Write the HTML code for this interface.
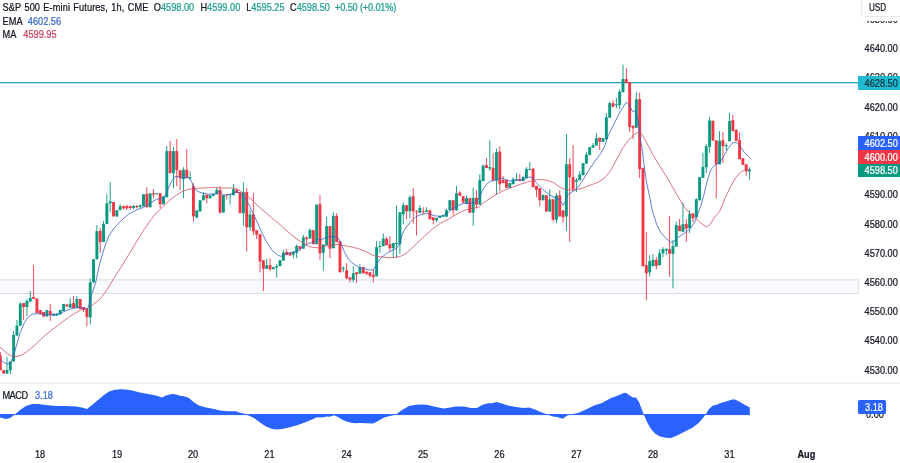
<!DOCTYPE html>
<html><head><meta charset="utf-8"><title>S&amp;P 500 E-mini Futures</title>
<style>
html,body{margin:0;padding:0;background:#fff;}
body{width:900px;height:463px;overflow:hidden;position:relative;font-family:"Liberation Sans",sans-serif;font-size:9.2px;color:#131722;}
#c{position:absolute;left:0;top:0;width:900px;height:463px;filter:blur(0.3px);}
.t{position:absolute;white-space:nowrap;line-height:12px;height:12px;transform:scaleY(1.1);transform-origin:0 50%;}
#txt{position:absolute;left:0;top:0;width:900px;height:463px;will-change:transform;-webkit-text-stroke:0.22px;}
.yl{position:absolute;left:864.6px;width:34px;height:12px;line-height:12px;white-space:nowrap;transform:scaleY(1.1);transform-origin:0 50%;}
.dl{position:absolute;top:449.3px;width:30px;text-align:center;height:12px;line-height:12px;transform:scaleY(1.1);transform-origin:50% 50%;}
.dl.b{font-weight:bold;}
.tag{position:absolute;left:858.3px;width:41.7px;height:13.7px;color:#fff;white-space:nowrap;}
.tag span{position:absolute;left:6.3px;top:1.55px;height:12px;line-height:12px;transform:scaleY(1.1);transform-origin:0 50%;}
.teal{color:#1f9e8f;}
</style></head><body>
<svg id="c" width="900" height="463" viewBox="0 0 900 463">
<rect x="-2" y="279.9" width="860.3" height="13.6" fill="#fafbfe" stroke="#d5d8e2" stroke-width="0.9"/>
<rect x="0" y="82" width="858.3" height="1.3" fill="#2aa7b9"/>
<rect x="-0.15" y="352.0" width="0.9" height="18.3" fill="#f23645"/>
<rect x="-1.15" y="355.4" width="2.9" height="14.9" fill="#f23645"/>
<rect x="3.18" y="370.0" width="0.9" height="3.5" fill="#f23645"/>
<rect x="2.18" y="370.3" width="2.9" height="3.2" fill="#f23645"/>
<rect x="6.51" y="356.7" width="0.9" height="17.3" fill="#089981"/>
<rect x="5.51" y="370.0" width="2.9" height="3.5" fill="#089981"/>
<rect x="9.84" y="361.0" width="0.9" height="13.4" fill="#089981"/>
<rect x="8.84" y="361.5" width="2.9" height="8.8" fill="#089981"/>
<rect x="13.17" y="331.0" width="0.9" height="30.5" fill="#089981"/>
<rect x="12.17" y="335.0" width="2.9" height="26.5" fill="#089981"/>
<rect x="16.50" y="320.0" width="0.9" height="15.6" fill="#089981"/>
<rect x="15.50" y="325.5" width="2.9" height="10.1" fill="#089981"/>
<rect x="19.83" y="302.0" width="0.9" height="23.7" fill="#089981"/>
<rect x="18.83" y="303.7" width="2.9" height="22.0" fill="#089981"/>
<rect x="23.16" y="303.0" width="0.9" height="17.0" fill="#f23645"/>
<rect x="22.16" y="303.0" width="2.9" height="4.0" fill="#f23645"/>
<rect x="26.49" y="299.0" width="0.9" height="17.0" fill="#089981"/>
<rect x="25.49" y="301.0" width="2.9" height="6.0" fill="#089981"/>
<rect x="29.82" y="291.0" width="0.9" height="10.6" fill="#089981"/>
<rect x="28.82" y="298.0" width="2.9" height="3.6" fill="#089981"/>
<rect x="33.15" y="265.0" width="0.9" height="34.0" fill="#f23645"/>
<rect x="32.15" y="297.0" width="2.9" height="2.0" fill="#f23645"/>
<rect x="36.48" y="298.4" width="0.9" height="14.6" fill="#f23645"/>
<rect x="35.48" y="298.4" width="2.9" height="14.6" fill="#f23645"/>
<rect x="39.81" y="310.0" width="0.9" height="4.0" fill="#f23645"/>
<rect x="38.81" y="310.0" width="2.9" height="4.0" fill="#f23645"/>
<rect x="43.14" y="312.0" width="0.9" height="4.5" fill="#f23645"/>
<rect x="42.14" y="312.0" width="2.9" height="4.5" fill="#f23645"/>
<rect x="46.47" y="310.0" width="0.9" height="6.5" fill="#089981"/>
<rect x="45.47" y="310.0" width="2.9" height="6.5" fill="#089981"/>
<rect x="49.80" y="304.0" width="0.9" height="17.0" fill="#f23645"/>
<rect x="48.80" y="311.0" width="2.9" height="4.0" fill="#f23645"/>
<rect x="53.13" y="313.7" width="0.9" height="2.0" fill="#089981"/>
<rect x="52.13" y="313.7" width="2.9" height="2.0" fill="#089981"/>
<rect x="56.46" y="313.7" width="0.9" height="2.0" fill="#089981"/>
<rect x="55.46" y="313.7" width="2.9" height="2.0" fill="#089981"/>
<rect x="59.79" y="310.0" width="0.9" height="4.5" fill="#089981"/>
<rect x="58.79" y="310.0" width="2.9" height="4.5" fill="#089981"/>
<rect x="63.12" y="304.0" width="0.9" height="7.0" fill="#089981"/>
<rect x="62.12" y="304.0" width="2.9" height="7.0" fill="#089981"/>
<rect x="66.45" y="304.5" width="0.9" height="2.0" fill="#f23645"/>
<rect x="65.45" y="304.5" width="2.9" height="2.0" fill="#f23645"/>
<rect x="69.78" y="298.0" width="0.9" height="9.7" fill="#089981"/>
<rect x="68.78" y="303.7" width="2.9" height="4.0" fill="#089981"/>
<rect x="73.11" y="296.0" width="0.9" height="12.0" fill="#f23645"/>
<rect x="72.11" y="303.0" width="2.9" height="5.0" fill="#f23645"/>
<rect x="76.44" y="296.0" width="0.9" height="11.7" fill="#089981"/>
<rect x="75.44" y="299.0" width="2.9" height="8.7" fill="#089981"/>
<rect x="79.77" y="299.0" width="0.9" height="10.0" fill="#f23645"/>
<rect x="78.77" y="299.0" width="2.9" height="10.0" fill="#f23645"/>
<rect x="83.10" y="307.0" width="0.9" height="5.0" fill="#f23645"/>
<rect x="82.10" y="307.0" width="2.9" height="3.0" fill="#f23645"/>
<rect x="86.43" y="308.5" width="0.9" height="18.0" fill="#f23645"/>
<rect x="85.43" y="308.5" width="2.9" height="8.5" fill="#f23645"/>
<rect x="89.76" y="278.4" width="0.9" height="46.2" fill="#089981"/>
<rect x="88.76" y="282.4" width="2.9" height="35.1" fill="#089981"/>
<rect x="93.09" y="259.3" width="0.9" height="23.1" fill="#089981"/>
<rect x="92.09" y="259.3" width="2.9" height="23.1" fill="#089981"/>
<rect x="96.42" y="225.0" width="0.9" height="34.3" fill="#089981"/>
<rect x="95.42" y="231.2" width="2.9" height="28.1" fill="#089981"/>
<rect x="99.75" y="228.0" width="0.9" height="25.0" fill="#f23645"/>
<rect x="98.75" y="230.8" width="2.9" height="11.4" fill="#f23645"/>
<rect x="103.08" y="221.0" width="0.9" height="21.0" fill="#089981"/>
<rect x="102.08" y="224.0" width="2.9" height="18.0" fill="#089981"/>
<rect x="106.41" y="194.3" width="0.9" height="29.7" fill="#089981"/>
<rect x="105.41" y="203.3" width="2.9" height="20.7" fill="#089981"/>
<rect x="109.74" y="182.2" width="0.9" height="29.8" fill="#089981"/>
<rect x="108.74" y="201.3" width="2.9" height="2.0" fill="#089981"/>
<rect x="113.07" y="202.0" width="0.9" height="14.4" fill="#f23645"/>
<rect x="112.07" y="202.0" width="2.9" height="14.4" fill="#f23645"/>
<rect x="116.40" y="210.2" width="0.9" height="6.3" fill="#089981"/>
<rect x="115.40" y="210.2" width="2.9" height="6.3" fill="#089981"/>
<rect x="119.73" y="204.3" width="0.9" height="5.9" fill="#089981"/>
<rect x="118.73" y="206.2" width="2.9" height="4.0" fill="#089981"/>
<rect x="123.06" y="205.3" width="0.9" height="4.2" fill="#f23645"/>
<rect x="122.06" y="206.3" width="2.9" height="2.0" fill="#f23645"/>
<rect x="126.39" y="204.8" width="0.9" height="5.0" fill="#f23645"/>
<rect x="125.39" y="206.0" width="2.9" height="2.3" fill="#f23645"/>
<rect x="129.72" y="205.5" width="0.9" height="4.0" fill="#f23645"/>
<rect x="128.72" y="206.3" width="2.9" height="1.7" fill="#f23645"/>
<rect x="133.05" y="204.8" width="0.9" height="4.4" fill="#089981"/>
<rect x="132.05" y="206.0" width="2.9" height="2.0" fill="#089981"/>
<rect x="136.38" y="205.0" width="0.9" height="3.5" fill="#f23645"/>
<rect x="135.38" y="206.0" width="2.9" height="1.1" fill="#f23645"/>
<rect x="139.71" y="204.2" width="0.9" height="4.0" fill="#089981"/>
<rect x="138.71" y="205.5" width="2.9" height="1.6" fill="#089981"/>
<rect x="143.04" y="194.3" width="0.9" height="12.0" fill="#089981"/>
<rect x="142.04" y="194.3" width="2.9" height="12.0" fill="#089981"/>
<rect x="146.37" y="187.3" width="0.9" height="20.0" fill="#f23645"/>
<rect x="145.37" y="193.9" width="2.9" height="13.4" fill="#f23645"/>
<rect x="149.70" y="193.3" width="0.9" height="14.0" fill="#089981"/>
<rect x="148.70" y="193.3" width="2.9" height="14.0" fill="#089981"/>
<rect x="153.03" y="189.3" width="0.9" height="9.0" fill="#f23645"/>
<rect x="152.03" y="193.3" width="2.9" height="1.4" fill="#f23645"/>
<rect x="156.36" y="193.3" width="0.9" height="1.0" fill="#089981"/>
<rect x="155.36" y="193.3" width="2.9" height="1.0" fill="#089981"/>
<rect x="159.69" y="193.3" width="0.9" height="15.0" fill="#f23645"/>
<rect x="158.69" y="193.3" width="2.9" height="11.0" fill="#f23645"/>
<rect x="163.02" y="196.3" width="0.9" height="8.0" fill="#089981"/>
<rect x="162.02" y="196.3" width="2.9" height="8.0" fill="#089981"/>
<rect x="166.35" y="146.0" width="0.9" height="51.3" fill="#089981"/>
<rect x="165.35" y="151.1" width="2.9" height="46.2" fill="#089981"/>
<rect x="169.68" y="141.0" width="0.9" height="32.2" fill="#f23645"/>
<rect x="168.68" y="151.1" width="2.9" height="22.1" fill="#f23645"/>
<rect x="173.01" y="147.0" width="0.9" height="41.3" fill="#089981"/>
<rect x="172.01" y="151.1" width="2.9" height="22.1" fill="#089981"/>
<rect x="176.34" y="139.0" width="0.9" height="47.2" fill="#f23645"/>
<rect x="175.34" y="151.1" width="2.9" height="19.1" fill="#f23645"/>
<rect x="179.67" y="170.2" width="0.9" height="20.1" fill="#f23645"/>
<rect x="178.67" y="170.2" width="2.9" height="8.0" fill="#f23645"/>
<rect x="183.00" y="167.2" width="0.9" height="31.1" fill="#089981"/>
<rect x="182.00" y="169.8" width="2.9" height="9.4" fill="#089981"/>
<rect x="186.33" y="149.1" width="0.9" height="29.1" fill="#f23645"/>
<rect x="185.33" y="169.8" width="2.9" height="8.4" fill="#f23645"/>
<rect x="189.66" y="171.2" width="0.9" height="9.0" fill="#089981"/>
<rect x="188.66" y="177.2" width="2.9" height="1.0" fill="#089981"/>
<rect x="192.99" y="183.2" width="0.9" height="38.2" fill="#f23645"/>
<rect x="191.99" y="186.2" width="2.9" height="30.2" fill="#f23645"/>
<rect x="196.32" y="210.4" width="0.9" height="8.0" fill="#089981"/>
<rect x="195.32" y="210.4" width="2.9" height="7.0" fill="#089981"/>
<rect x="199.65" y="200.3" width="0.9" height="11.1" fill="#089981"/>
<rect x="198.65" y="200.3" width="2.9" height="11.1" fill="#089981"/>
<rect x="202.98" y="192.3" width="0.9" height="8.0" fill="#089981"/>
<rect x="201.98" y="195.3" width="2.9" height="5.0" fill="#089981"/>
<rect x="206.31" y="194.7" width="0.9" height="8.6" fill="#f23645"/>
<rect x="205.31" y="194.7" width="2.9" height="3.6" fill="#f23645"/>
<rect x="209.64" y="195.3" width="0.9" height="3.0" fill="#089981"/>
<rect x="208.64" y="195.3" width="2.9" height="3.0" fill="#089981"/>
<rect x="212.97" y="193.9" width="0.9" height="2.0" fill="#089981"/>
<rect x="211.97" y="193.9" width="2.9" height="2.0" fill="#089981"/>
<rect x="216.30" y="187.3" width="0.9" height="7.0" fill="#089981"/>
<rect x="215.30" y="189.9" width="2.9" height="4.4" fill="#089981"/>
<rect x="219.63" y="186.2" width="0.9" height="27.2" fill="#f23645"/>
<rect x="218.63" y="189.9" width="2.9" height="22.9" fill="#f23645"/>
<rect x="222.96" y="195.2" width="0.9" height="17.3" fill="#089981"/>
<rect x="221.96" y="195.2" width="2.9" height="17.3" fill="#089981"/>
<rect x="226.29" y="194.3" width="0.9" height="5.0" fill="#f23645"/>
<rect x="225.29" y="194.3" width="2.9" height="1.0" fill="#f23645"/>
<rect x="229.62" y="194.3" width="0.9" height="10.2" fill="#089981"/>
<rect x="228.62" y="194.3" width="2.9" height="1.0" fill="#089981"/>
<rect x="232.95" y="184.1" width="0.9" height="11.1" fill="#089981"/>
<rect x="231.95" y="189.2" width="2.9" height="6.0" fill="#089981"/>
<rect x="236.28" y="189.5" width="0.9" height="3.5" fill="#f23645"/>
<rect x="235.28" y="189.5" width="2.9" height="3.5" fill="#f23645"/>
<rect x="239.61" y="192.1" width="0.9" height="21.1" fill="#f23645"/>
<rect x="238.61" y="192.1" width="2.9" height="21.1" fill="#f23645"/>
<rect x="242.94" y="182.5" width="0.9" height="43.5" fill="#089981"/>
<rect x="241.94" y="192.1" width="2.9" height="21.1" fill="#089981"/>
<rect x="246.27" y="188.0" width="0.9" height="63.4" fill="#f23645"/>
<rect x="245.27" y="192.1" width="2.9" height="35.2" fill="#f23645"/>
<rect x="249.60" y="210.0" width="0.9" height="21.0" fill="#089981"/>
<rect x="248.60" y="214.6" width="2.9" height="12.7" fill="#089981"/>
<rect x="252.93" y="193.1" width="0.9" height="41.9" fill="#f23645"/>
<rect x="251.93" y="214.2" width="2.9" height="17.1" fill="#f23645"/>
<rect x="256.26" y="230.3" width="0.9" height="8.7" fill="#f23645"/>
<rect x="255.26" y="230.3" width="2.9" height="4.4" fill="#f23645"/>
<rect x="259.59" y="234.2" width="0.9" height="38.1" fill="#f23645"/>
<rect x="258.59" y="234.2" width="2.9" height="27.3" fill="#f23645"/>
<rect x="262.92" y="260.3" width="0.9" height="30.7" fill="#f23645"/>
<rect x="261.92" y="260.3" width="2.9" height="8.5" fill="#f23645"/>
<rect x="266.25" y="258.8" width="0.9" height="10.0" fill="#089981"/>
<rect x="265.25" y="265.2" width="2.9" height="3.6" fill="#089981"/>
<rect x="269.58" y="258.2" width="0.9" height="13.0" fill="#f23645"/>
<rect x="268.58" y="265.2" width="2.9" height="4.0" fill="#f23645"/>
<rect x="272.91" y="267.2" width="0.9" height="2.0" fill="#089981"/>
<rect x="271.91" y="267.2" width="2.9" height="2.0" fill="#089981"/>
<rect x="276.24" y="264.2" width="0.9" height="13.5" fill="#089981"/>
<rect x="275.24" y="266.2" width="2.9" height="1.4" fill="#089981"/>
<rect x="279.57" y="260.2" width="0.9" height="6.0" fill="#089981"/>
<rect x="278.57" y="260.2" width="2.9" height="6.0" fill="#089981"/>
<rect x="282.90" y="250.0" width="0.9" height="10.6" fill="#089981"/>
<rect x="281.90" y="252.6" width="2.9" height="8.0" fill="#089981"/>
<rect x="286.23" y="249.4" width="0.9" height="5.6" fill="#f23645"/>
<rect x="285.23" y="252.1" width="2.9" height="2.9" fill="#f23645"/>
<rect x="289.56" y="252.8" width="0.9" height="2.7" fill="#f23645"/>
<rect x="288.56" y="252.8" width="2.9" height="2.7" fill="#f23645"/>
<rect x="292.89" y="251.8" width="0.9" height="6.5" fill="#089981"/>
<rect x="291.89" y="251.8" width="2.9" height="2.8" fill="#089981"/>
<rect x="296.22" y="244.3" width="0.9" height="14.0" fill="#089981"/>
<rect x="295.22" y="246.0" width="2.9" height="6.8" fill="#089981"/>
<rect x="299.55" y="246.0" width="0.9" height="5.2" fill="#f23645"/>
<rect x="298.55" y="246.0" width="2.9" height="3.0" fill="#f23645"/>
<rect x="302.88" y="234.9" width="0.9" height="13.8" fill="#089981"/>
<rect x="301.88" y="237.4" width="2.9" height="11.3" fill="#089981"/>
<rect x="306.21" y="236.3" width="0.9" height="8.9" fill="#f23645"/>
<rect x="305.21" y="237.7" width="2.9" height="1.5" fill="#f23645"/>
<rect x="309.54" y="228.2" width="0.9" height="10.3" fill="#089981"/>
<rect x="308.54" y="230.0" width="2.9" height="8.5" fill="#089981"/>
<rect x="312.87" y="230.2" width="0.9" height="14.0" fill="#f23645"/>
<rect x="311.87" y="230.2" width="2.9" height="14.0" fill="#f23645"/>
<rect x="316.20" y="204.6" width="0.9" height="39.6" fill="#089981"/>
<rect x="315.20" y="204.6" width="2.9" height="39.6" fill="#089981"/>
<rect x="319.53" y="195.1" width="0.9" height="65.2" fill="#f23645"/>
<rect x="318.53" y="204.2" width="2.9" height="49.1" fill="#f23645"/>
<rect x="322.86" y="244.5" width="0.9" height="26.3" fill="#089981"/>
<rect x="321.86" y="244.5" width="2.9" height="8.3" fill="#089981"/>
<rect x="326.19" y="216.8" width="0.9" height="28.4" fill="#089981"/>
<rect x="325.19" y="226.1" width="2.9" height="19.1" fill="#089981"/>
<rect x="329.52" y="226.1" width="0.9" height="32.2" fill="#f23645"/>
<rect x="328.52" y="226.1" width="2.9" height="22.6" fill="#f23645"/>
<rect x="332.85" y="212.2" width="0.9" height="36.0" fill="#089981"/>
<rect x="331.85" y="215.9" width="2.9" height="32.3" fill="#089981"/>
<rect x="336.18" y="213.2" width="0.9" height="29.0" fill="#f23645"/>
<rect x="335.18" y="215.9" width="2.9" height="26.3" fill="#f23645"/>
<rect x="339.51" y="241.2" width="0.9" height="31.1" fill="#f23645"/>
<rect x="338.51" y="241.2" width="2.9" height="31.1" fill="#f23645"/>
<rect x="342.84" y="266.2" width="0.9" height="6.1" fill="#089981"/>
<rect x="341.84" y="268.2" width="2.9" height="1.0" fill="#089981"/>
<rect x="346.17" y="263.2" width="0.9" height="16.1" fill="#f23645"/>
<rect x="345.17" y="270.2" width="2.9" height="8.1" fill="#f23645"/>
<rect x="349.50" y="277.3" width="0.9" height="5.0" fill="#f23645"/>
<rect x="348.50" y="277.3" width="2.9" height="2.4" fill="#f23645"/>
<rect x="352.83" y="266.2" width="0.9" height="16.1" fill="#089981"/>
<rect x="351.83" y="273.3" width="2.9" height="6.4" fill="#089981"/>
<rect x="356.16" y="272.3" width="0.9" height="10.6" fill="#f23645"/>
<rect x="355.16" y="272.3" width="2.9" height="2.0" fill="#f23645"/>
<rect x="359.49" y="264.2" width="0.9" height="9.5" fill="#089981"/>
<rect x="358.49" y="267.6" width="2.9" height="6.1" fill="#089981"/>
<rect x="362.82" y="267.2" width="0.9" height="6.1" fill="#f23645"/>
<rect x="361.82" y="267.2" width="2.9" height="6.1" fill="#f23645"/>
<rect x="366.15" y="271.6" width="0.9" height="3.7" fill="#f23645"/>
<rect x="365.15" y="271.6" width="2.9" height="2.1" fill="#f23645"/>
<rect x="369.48" y="272.3" width="0.9" height="5.4" fill="#f23645"/>
<rect x="368.48" y="272.3" width="2.9" height="3.4" fill="#f23645"/>
<rect x="372.81" y="269.2" width="0.9" height="13.1" fill="#f23645"/>
<rect x="371.81" y="274.9" width="2.9" height="2.0" fill="#f23645"/>
<rect x="376.14" y="241.1" width="0.9" height="35.2" fill="#089981"/>
<rect x="375.14" y="247.1" width="2.9" height="29.2" fill="#089981"/>
<rect x="379.47" y="241.0" width="0.9" height="12.0" fill="#089981"/>
<rect x="378.47" y="246.1" width="2.9" height="1.0" fill="#089981"/>
<rect x="382.80" y="233.4" width="0.9" height="12.8" fill="#089981"/>
<rect x="381.80" y="238.7" width="2.9" height="7.5" fill="#089981"/>
<rect x="386.13" y="237.3" width="0.9" height="7.9" fill="#f23645"/>
<rect x="385.13" y="238.7" width="2.9" height="6.5" fill="#f23645"/>
<rect x="389.46" y="236.3" width="0.9" height="14.9" fill="#f23645"/>
<rect x="388.46" y="244.2" width="2.9" height="4.0" fill="#f23645"/>
<rect x="392.79" y="243.2" width="0.9" height="14.6" fill="#089981"/>
<rect x="391.79" y="243.2" width="2.9" height="5.0" fill="#089981"/>
<rect x="396.12" y="205.5" width="0.9" height="52.7" fill="#089981"/>
<rect x="395.12" y="243.0" width="2.9" height="1.0" fill="#089981"/>
<rect x="399.45" y="212.3" width="0.9" height="41.7" fill="#089981"/>
<rect x="398.45" y="212.3" width="2.9" height="32.0" fill="#089981"/>
<rect x="402.78" y="202.2" width="0.9" height="22.1" fill="#089981"/>
<rect x="401.78" y="205.2" width="2.9" height="9.1" fill="#089981"/>
<rect x="406.11" y="205.2" width="0.9" height="14.1" fill="#f23645"/>
<rect x="405.11" y="205.2" width="2.9" height="6.1" fill="#f23645"/>
<rect x="409.44" y="195.2" width="0.9" height="23.1" fill="#089981"/>
<rect x="408.44" y="197.2" width="2.9" height="14.1" fill="#089981"/>
<rect x="412.77" y="187.8" width="0.9" height="35.6" fill="#f23645"/>
<rect x="411.77" y="196.2" width="2.9" height="15.1" fill="#f23645"/>
<rect x="416.10" y="210.3" width="0.9" height="25.1" fill="#f23645"/>
<rect x="415.10" y="211.3" width="2.9" height="1.0" fill="#f23645"/>
<rect x="419.43" y="205.2" width="0.9" height="7.5" fill="#089981"/>
<rect x="418.43" y="207.9" width="2.9" height="4.8" fill="#089981"/>
<rect x="422.76" y="207.3" width="0.9" height="7.0" fill="#f23645"/>
<rect x="421.76" y="211.3" width="2.9" height="1.0" fill="#f23645"/>
<rect x="426.09" y="207.3" width="0.9" height="4.6" fill="#089981"/>
<rect x="425.09" y="210.3" width="2.9" height="1.6" fill="#089981"/>
<rect x="429.42" y="210.3" width="0.9" height="9.0" fill="#f23645"/>
<rect x="428.42" y="210.3" width="2.9" height="9.0" fill="#f23645"/>
<rect x="432.75" y="217.3" width="0.9" height="7.0" fill="#f23645"/>
<rect x="431.75" y="217.3" width="2.9" height="3.0" fill="#f23645"/>
<rect x="436.08" y="217.9" width="0.9" height="4.1" fill="#089981"/>
<rect x="435.08" y="217.9" width="2.9" height="2.4" fill="#089981"/>
<rect x="439.41" y="215.9" width="0.9" height="2.0" fill="#089981"/>
<rect x="438.41" y="215.9" width="2.9" height="2.0" fill="#089981"/>
<rect x="442.74" y="215.3" width="0.9" height="1.4" fill="#089981"/>
<rect x="441.74" y="215.3" width="2.9" height="1.4" fill="#089981"/>
<rect x="446.07" y="208.7" width="0.9" height="8.0" fill="#089981"/>
<rect x="445.07" y="210.3" width="2.9" height="6.4" fill="#089981"/>
<rect x="449.40" y="200.2" width="0.9" height="10.1" fill="#089981"/>
<rect x="448.40" y="200.2" width="2.9" height="10.1" fill="#089981"/>
<rect x="452.73" y="200.2" width="0.9" height="15.1" fill="#f23645"/>
<rect x="451.73" y="200.2" width="2.9" height="10.1" fill="#f23645"/>
<rect x="456.06" y="185.8" width="0.9" height="24.5" fill="#089981"/>
<rect x="455.06" y="193.2" width="2.9" height="17.1" fill="#089981"/>
<rect x="459.39" y="191.2" width="0.9" height="4.6" fill="#f23645"/>
<rect x="458.39" y="192.6" width="2.9" height="3.2" fill="#f23645"/>
<rect x="462.72" y="196.2" width="0.9" height="6.4" fill="#f23645"/>
<rect x="461.72" y="196.2" width="2.9" height="6.4" fill="#f23645"/>
<rect x="466.05" y="195.2" width="0.9" height="8.6" fill="#089981"/>
<rect x="465.05" y="198.2" width="2.9" height="5.6" fill="#089981"/>
<rect x="469.38" y="198.2" width="0.9" height="14.5" fill="#f23645"/>
<rect x="468.38" y="198.2" width="2.9" height="14.5" fill="#f23645"/>
<rect x="472.71" y="187.8" width="0.9" height="38.1" fill="#089981"/>
<rect x="471.71" y="197.8" width="2.9" height="14.9" fill="#089981"/>
<rect x="476.04" y="190.2" width="0.9" height="18.1" fill="#f23645"/>
<rect x="475.04" y="197.8" width="2.9" height="6.8" fill="#f23645"/>
<rect x="479.37" y="174.1" width="0.9" height="30.5" fill="#089981"/>
<rect x="478.37" y="180.1" width="2.9" height="24.5" fill="#089981"/>
<rect x="482.70" y="164.5" width="0.9" height="16.6" fill="#089981"/>
<rect x="481.70" y="165.7" width="2.9" height="15.4" fill="#089981"/>
<rect x="486.03" y="158.0" width="0.9" height="10.1" fill="#f23645"/>
<rect x="485.03" y="165.1" width="2.9" height="3.0" fill="#f23645"/>
<rect x="489.36" y="140.2" width="0.9" height="30.8" fill="#089981"/>
<rect x="488.36" y="167.1" width="2.9" height="1.5" fill="#089981"/>
<rect x="492.69" y="153.1" width="0.9" height="27.4" fill="#f23645"/>
<rect x="491.69" y="167.9" width="2.9" height="12.6" fill="#f23645"/>
<rect x="496.02" y="148.5" width="0.9" height="46.0" fill="#089981"/>
<rect x="495.02" y="152.2" width="2.9" height="28.3" fill="#089981"/>
<rect x="499.35" y="146.0" width="0.9" height="45.2" fill="#f23645"/>
<rect x="498.35" y="151.6" width="2.9" height="32.6" fill="#f23645"/>
<rect x="502.68" y="176.1" width="0.9" height="7.0" fill="#f23645"/>
<rect x="501.68" y="180.1" width="2.9" height="3.0" fill="#f23645"/>
<rect x="506.01" y="180.1" width="0.9" height="7.7" fill="#f23645"/>
<rect x="505.01" y="180.1" width="2.9" height="7.7" fill="#f23645"/>
<rect x="509.34" y="183.1" width="0.9" height="4.7" fill="#089981"/>
<rect x="508.34" y="183.1" width="2.9" height="4.7" fill="#089981"/>
<rect x="512.67" y="177.1" width="0.9" height="7.1" fill="#089981"/>
<rect x="511.67" y="179.1" width="2.9" height="5.1" fill="#089981"/>
<rect x="516.00" y="173.1" width="0.9" height="7.0" fill="#089981"/>
<rect x="515.00" y="179.1" width="2.9" height="1.0" fill="#089981"/>
<rect x="519.33" y="174.1" width="0.9" height="7.0" fill="#f23645"/>
<rect x="518.33" y="179.1" width="2.9" height="2.0" fill="#f23645"/>
<rect x="522.66" y="175.7" width="0.9" height="5.4" fill="#089981"/>
<rect x="521.66" y="177.1" width="2.9" height="4.0" fill="#089981"/>
<rect x="525.99" y="167.1" width="0.9" height="11.0" fill="#089981"/>
<rect x="524.99" y="169.1" width="2.9" height="9.0" fill="#089981"/>
<rect x="529.32" y="162.0" width="0.9" height="8.1" fill="#089981"/>
<rect x="528.32" y="169.1" width="2.9" height="1.0" fill="#089981"/>
<rect x="532.65" y="168.5" width="0.9" height="18.7" fill="#f23645"/>
<rect x="531.65" y="168.5" width="2.9" height="18.7" fill="#f23645"/>
<rect x="535.98" y="185.8" width="0.9" height="11.4" fill="#f23645"/>
<rect x="534.98" y="185.8" width="2.9" height="4.0" fill="#f23645"/>
<rect x="539.31" y="188.2" width="0.9" height="18.0" fill="#f23645"/>
<rect x="538.31" y="188.2" width="2.9" height="12.0" fill="#f23645"/>
<rect x="542.64" y="194.8" width="0.9" height="5.5" fill="#089981"/>
<rect x="541.64" y="194.8" width="2.9" height="5.5" fill="#089981"/>
<rect x="545.97" y="195.3" width="0.9" height="16.3" fill="#f23645"/>
<rect x="544.97" y="195.3" width="2.9" height="16.3" fill="#f23645"/>
<rect x="549.30" y="189.2" width="0.9" height="22.4" fill="#089981"/>
<rect x="548.30" y="199.3" width="2.9" height="12.3" fill="#089981"/>
<rect x="552.63" y="199.3" width="0.9" height="22.1" fill="#f23645"/>
<rect x="551.63" y="199.3" width="2.9" height="20.3" fill="#f23645"/>
<rect x="555.96" y="193.2" width="0.9" height="29.8" fill="#089981"/>
<rect x="554.96" y="195.5" width="2.9" height="24.1" fill="#089981"/>
<rect x="559.29" y="190.3" width="0.9" height="26.1" fill="#f23645"/>
<rect x="558.29" y="195.3" width="2.9" height="21.1" fill="#f23645"/>
<rect x="562.62" y="210.4" width="0.9" height="12.1" fill="#f23645"/>
<rect x="561.62" y="210.4" width="2.9" height="6.8" fill="#f23645"/>
<rect x="565.95" y="134.0" width="0.9" height="97.1" fill="#089981"/>
<rect x="564.95" y="164.2" width="2.9" height="52.2" fill="#089981"/>
<rect x="569.28" y="158.1" width="0.9" height="84.0" fill="#f23645"/>
<rect x="568.28" y="164.2" width="2.9" height="13.0" fill="#f23645"/>
<rect x="572.61" y="145.0" width="0.9" height="46.3" fill="#f23645"/>
<rect x="571.61" y="177.2" width="2.9" height="12.1" fill="#f23645"/>
<rect x="575.94" y="178.2" width="0.9" height="14.0" fill="#089981"/>
<rect x="574.94" y="180.2" width="2.9" height="1.6" fill="#089981"/>
<rect x="579.27" y="171.2" width="0.9" height="9.0" fill="#089981"/>
<rect x="578.27" y="174.6" width="2.9" height="5.6" fill="#089981"/>
<rect x="582.60" y="163.1" width="0.9" height="12.1" fill="#089981"/>
<rect x="581.60" y="163.1" width="2.9" height="12.1" fill="#089981"/>
<rect x="585.93" y="152.1" width="0.9" height="11.6" fill="#089981"/>
<rect x="584.93" y="154.5" width="2.9" height="9.2" fill="#089981"/>
<rect x="589.26" y="147.1" width="0.9" height="8.0" fill="#089981"/>
<rect x="588.26" y="147.1" width="2.9" height="8.0" fill="#089981"/>
<rect x="592.59" y="143.1" width="0.9" height="4.6" fill="#089981"/>
<rect x="591.59" y="145.1" width="2.9" height="2.6" fill="#089981"/>
<rect x="595.92" y="133.2" width="0.9" height="12.4" fill="#089981"/>
<rect x="594.92" y="138.2" width="2.9" height="7.4" fill="#089981"/>
<rect x="599.25" y="137.7" width="0.9" height="12.3" fill="#f23645"/>
<rect x="598.25" y="137.7" width="2.9" height="4.1" fill="#f23645"/>
<rect x="602.58" y="138.2" width="0.9" height="3.6" fill="#089981"/>
<rect x="601.58" y="138.2" width="2.9" height="3.6" fill="#089981"/>
<rect x="605.91" y="113.3" width="0.9" height="26.1" fill="#089981"/>
<rect x="604.91" y="117.3" width="2.9" height="22.1" fill="#089981"/>
<rect x="609.24" y="101.6" width="0.9" height="16.1" fill="#089981"/>
<rect x="608.24" y="103.2" width="2.9" height="14.5" fill="#089981"/>
<rect x="612.57" y="100.2" width="0.9" height="6.6" fill="#f23645"/>
<rect x="611.57" y="103.2" width="2.9" height="3.6" fill="#f23645"/>
<rect x="615.90" y="97.8" width="0.9" height="10.4" fill="#089981"/>
<rect x="614.90" y="104.2" width="2.9" height="1.0" fill="#089981"/>
<rect x="619.23" y="89.2" width="0.9" height="20.0" fill="#089981"/>
<rect x="618.23" y="91.6" width="2.9" height="13.6" fill="#089981"/>
<rect x="622.56" y="64.6" width="0.9" height="27.6" fill="#089981"/>
<rect x="621.56" y="79.1" width="2.9" height="13.1" fill="#089981"/>
<rect x="625.89" y="68.1" width="0.9" height="15.0" fill="#f23645"/>
<rect x="624.89" y="79.1" width="2.9" height="4.0" fill="#f23645"/>
<rect x="629.22" y="82.1" width="0.9" height="50.2" fill="#f23645"/>
<rect x="628.22" y="82.1" width="2.9" height="44.8" fill="#f23645"/>
<rect x="632.55" y="125.7" width="0.9" height="13.3" fill="#f23645"/>
<rect x="631.55" y="125.7" width="2.9" height="2.6" fill="#f23645"/>
<rect x="635.88" y="92.2" width="0.9" height="35.5" fill="#089981"/>
<rect x="634.88" y="99.2" width="2.9" height="28.5" fill="#089981"/>
<rect x="639.21" y="92.8" width="0.9" height="85.4" fill="#f23645"/>
<rect x="638.21" y="99.2" width="2.9" height="70.0" fill="#f23645"/>
<rect x="642.54" y="167.8" width="0.9" height="98.4" fill="#f23645"/>
<rect x="641.54" y="167.8" width="2.9" height="98.4" fill="#f23645"/>
<rect x="645.87" y="232.1" width="0.9" height="68.3" fill="#f23645"/>
<rect x="644.87" y="265.2" width="2.9" height="8.1" fill="#f23645"/>
<rect x="649.20" y="255.2" width="0.9" height="21.1" fill="#089981"/>
<rect x="648.20" y="261.2" width="2.9" height="11.1" fill="#089981"/>
<rect x="652.53" y="254.2" width="0.9" height="12.0" fill="#089981"/>
<rect x="651.53" y="259.8" width="2.9" height="6.4" fill="#089981"/>
<rect x="655.86" y="257.2" width="0.9" height="12.1" fill="#f23645"/>
<rect x="654.86" y="259.8" width="2.9" height="6.0" fill="#f23645"/>
<rect x="659.19" y="249.2" width="0.9" height="16.0" fill="#089981"/>
<rect x="658.19" y="253.2" width="2.9" height="12.0" fill="#089981"/>
<rect x="662.52" y="247.2" width="0.9" height="10.0" fill="#089981"/>
<rect x="661.52" y="249.2" width="2.9" height="4.0" fill="#089981"/>
<rect x="665.85" y="248.2" width="0.9" height="7.0" fill="#089981"/>
<rect x="664.85" y="249.2" width="2.9" height="1.4" fill="#089981"/>
<rect x="669.18" y="216.0" width="0.9" height="60.7" fill="#f23645"/>
<rect x="668.18" y="249.2" width="2.9" height="4.6" fill="#f23645"/>
<rect x="672.51" y="240.1" width="0.9" height="48.2" fill="#089981"/>
<rect x="671.51" y="246.1" width="2.9" height="7.7" fill="#089981"/>
<rect x="675.84" y="221.6" width="0.9" height="25.0" fill="#089981"/>
<rect x="674.84" y="225.1" width="2.9" height="21.5" fill="#089981"/>
<rect x="679.17" y="219.0" width="0.9" height="12.1" fill="#f23645"/>
<rect x="678.17" y="225.7" width="2.9" height="5.4" fill="#f23645"/>
<rect x="682.50" y="202.3" width="0.9" height="29.4" fill="#089981"/>
<rect x="681.50" y="224.1" width="2.9" height="7.6" fill="#089981"/>
<rect x="685.83" y="219.0" width="0.9" height="23.1" fill="#f23645"/>
<rect x="684.83" y="224.1" width="2.9" height="4.4" fill="#f23645"/>
<rect x="689.16" y="210.4" width="0.9" height="22.7" fill="#089981"/>
<rect x="688.16" y="214.0" width="2.9" height="14.1" fill="#089981"/>
<rect x="692.49" y="213.5" width="0.9" height="8.5" fill="#f23645"/>
<rect x="691.49" y="213.5" width="2.9" height="4.7" fill="#f23645"/>
<rect x="695.82" y="198.3" width="0.9" height="19.1" fill="#089981"/>
<rect x="694.82" y="199.3" width="2.9" height="18.1" fill="#089981"/>
<rect x="699.15" y="177.2" width="0.9" height="23.1" fill="#089981"/>
<rect x="698.15" y="177.2" width="2.9" height="23.1" fill="#089981"/>
<rect x="702.48" y="152.6" width="0.9" height="25.3" fill="#089981"/>
<rect x="701.48" y="166.8" width="2.9" height="11.1" fill="#089981"/>
<rect x="705.81" y="144.2" width="0.9" height="28.8" fill="#089981"/>
<rect x="704.81" y="146.2" width="2.9" height="21.0" fill="#089981"/>
<rect x="709.14" y="117.0" width="0.9" height="36.0" fill="#089981"/>
<rect x="708.14" y="120.5" width="2.9" height="26.4" fill="#089981"/>
<rect x="712.47" y="120.8" width="0.9" height="19.8" fill="#f23645"/>
<rect x="711.47" y="120.8" width="2.9" height="19.8" fill="#f23645"/>
<rect x="715.80" y="140.3" width="0.9" height="57.7" fill="#f23645"/>
<rect x="714.80" y="140.3" width="2.9" height="23.9" fill="#f23645"/>
<rect x="719.13" y="131.1" width="0.9" height="33.2" fill="#089981"/>
<rect x="718.13" y="140.8" width="2.9" height="23.5" fill="#089981"/>
<rect x="722.46" y="132.1" width="0.9" height="30.9" fill="#f23645"/>
<rect x="721.46" y="140.2" width="2.9" height="6.0" fill="#f23645"/>
<rect x="725.79" y="143.2" width="0.9" height="7.0" fill="#089981"/>
<rect x="724.79" y="145.2" width="2.9" height="1.0" fill="#089981"/>
<rect x="729.12" y="113.0" width="0.9" height="28.2" fill="#089981"/>
<rect x="728.12" y="121.1" width="2.9" height="20.1" fill="#089981"/>
<rect x="732.45" y="115.0" width="0.9" height="16.1" fill="#f23645"/>
<rect x="731.45" y="120.1" width="2.9" height="11.0" fill="#f23645"/>
<rect x="735.78" y="129.1" width="0.9" height="11.7" fill="#f23645"/>
<rect x="734.78" y="130.1" width="2.9" height="10.7" fill="#f23645"/>
<rect x="739.11" y="132.1" width="0.9" height="27.1" fill="#f23645"/>
<rect x="738.11" y="140.2" width="2.9" height="19.0" fill="#f23645"/>
<rect x="742.44" y="158.2" width="0.9" height="6.7" fill="#f23645"/>
<rect x="741.44" y="158.2" width="2.9" height="6.7" fill="#f23645"/>
<rect x="745.77" y="164.3" width="0.9" height="11.4" fill="#f23645"/>
<rect x="744.77" y="164.3" width="2.9" height="7.0" fill="#f23645"/>
<rect x="749.10" y="167.3" width="0.9" height="12.4" fill="#089981"/>
<rect x="748.10" y="169.7" width="2.9" height="1.6" fill="#089981"/>
<polyline points="0.0,347.2 4.1,350.8 8.1,354.2 12.2,356.1 16.0,356.7 22.0,354.8 27.2,351.5 34.0,346.0 40.5,339.5 50.2,331.2 60.3,323.5 70.3,316.1 80.4,310.1 86.4,309.0 90.0,307.0 94.4,303.5 99.4,299.8 104.3,293.6 109.3,286.1 114.3,277.4 120.3,268.5 128.3,255.3 136.3,242.2 144.4,229.2 150.4,220.4 156.4,212.8 162.5,207.2 168.5,201.2 175.5,195.6 182.5,191.3 188.6,189.3 196.6,188.3 204.6,187.9 212.7,187.3 220.5,188.0 228.4,188.0 235.0,188.2 240.1,190.8 246.1,195.1 252.1,200.1 258.2,206.2 264.2,211.2 270.2,216.6 278.3,223.2 286.3,230.3 294.3,237.3 300.4,241.3 306.4,245.3 312.4,247.3 318.4,247.9 324.5,246.3 330.5,245.3 336.5,244.3 342.5,245.3 350.6,246.7 358.6,248.7 366.6,252.0 374.7,256.0 380.7,256.8 388.7,257.8 394.8,257.4 400.0,256.5 405.0,254.0 410.0,250.0 417.2,243.0 424.2,236.4 432.2,229.3 440.3,223.3 448.3,219.3 456.3,214.3 464.4,210.3 472.4,208.3 478.4,207.3 484.5,202.2 490.5,198.2 496.5,194.2 504.5,190.2 512.6,187.2 520.6,184.2 528.7,181.7 534.7,180.1 540.5,179.5 547.0,180.1 553.5,182.6 560.1,187.3 566.1,189.9 574.1,189.9 582.2,188.3 590.2,185.2 598.3,182.2 604.3,178.2 610.3,171.2 616.3,160.1 622.4,148.6 628.4,140.2 634.4,134.6 638.4,131.8 640.4,132.2 644.5,138.7 649.5,148.0 652.5,154.1 660.5,167.2 668.6,180.2 676.6,194.3 684.6,207.3 690.7,214.4 695.2,218.2 700.7,223.0 706.7,227.1 710.3,224.0 714.8,216.8 719.5,211.6 725.2,198.0 730.2,187.4 735.2,178.3 740.2,172.6 745.2,169.6 750.3,169.4" fill="none" stroke="#d2505f" stroke-width="0.8" stroke-linejoin="round"/>
<polyline points="0.0,359.5 2.7,361.5 6.8,364.0 10.0,363.2 13.6,356.0 16.0,347.0 20.0,333.4 24.1,323.3 28.1,317.2 32.1,314.2 38.2,313.7 44.2,314.5 52.2,315.1 60.3,313.1 68.3,309.7 76.3,307.7 82.4,307.7 86.4,309.1 88.5,307.0 91.9,293.6 95.5,283.0 100.3,261.5 105.2,245.2 109.2,235.2 114.2,228.1 120.3,221.5 128.3,214.3 136.3,210.0 143.4,207.4 150.4,203.2 156.4,199.2 160.4,198.8 164.5,196.8 168.5,188.3 171.5,181.2 174.5,176.8 178.5,176.6 182.5,178.2 188.6,177.2 191.6,181.2 193.6,188.3 197.6,191.3 202.6,193.3 208.7,194.3 214.7,193.9 219.7,191.3 223.7,195.2 230.5,194.2 236.5,191.6 240.1,193.1 245.1,198.1 249.1,205.2 253.1,213.2 257.2,222.2 261.2,231.3 266.2,241.3 272.2,250.4 278.3,255.4 281.3,256.4 286.3,253.4 292.3,252.4 298.3,250.4 302.4,247.3 308.4,243.3 314.4,242.3 318.4,239.3 322.4,239.3 326.5,237.3 332.5,236.3 337.5,237.3 340.5,241.8 344.5,252.3 348.6,259.3 352.6,263.1 358.6,267.2 364.6,268.8 370.7,270.2 373.7,269.2 376.7,264.2 380.7,258.2 386.7,253.2 392.8,250.2 396.8,248.1 399.8,243.0 402.0,235.0 404.1,230.4 410.1,222.3 415.2,217.3 420.2,214.7 427.2,213.3 430.2,214.3 435.2,215.9 440.3,216.3 446.3,214.3 450.3,210.3 456.3,206.2 462.4,203.8 468.4,203.2 475.4,202.6 479.4,198.2 482.5,190.2 486.5,184.2 490.5,181.1 494.5,180.5 500.5,178.1 504.5,179.1 510.6,181.1 516.6,180.5 522.6,179.7 528.7,177.1 531.7,177.1 535.7,182.1 540.4,186.8 544.0,190.3 550.0,195.3 556.1,198.3 560.1,200.3 563.1,205.3 565.1,201.3 568.1,194.3 573.1,191.3 577.2,188.3 582.2,181.2 588.2,171.2 594.2,162.1 600.3,154.1 604.3,147.0 608.3,135.4 614.3,123.3 620.4,111.2 626.4,102.2 629.4,105.2 632.4,111.2 635.4,111.2 638.4,121.3 640.4,139.7 642.5,152.1 644.5,168.2 646.5,182.2 649.5,196.3 652.5,211.0 656.5,224.0 660.5,232.1 665.6,238.1 670.6,242.1 673.6,241.7 678.6,237.1 684.6,233.1 690.7,228.1 694.7,222.0 698.2,213.0 700.7,206.3 703.5,196.5 707.1,181.3 711.1,169.3 715.1,164.9 720.1,162.3 724.2,155.2 728.2,148.2 732.2,143.2 736.2,142.2 740.2,146.2 744.2,152.2 750.3,158.2" fill="none" stroke="#3a5fc4" stroke-width="0.8" stroke-linejoin="round"/>
<rect x="0" y="382.7" width="900" height="0.9" fill="#e0e3eb"/>
<path d="M0,414.6 L0.0,417.6 L6.0,419.0 L10.0,418.0 L15.0,414.6 L20.0,410.0 L26.0,406.0 L32.0,404.0 L38.0,404.0 L46.0,405.0 L56.0,406.0 L66.0,406.0 L76.0,406.4 L82.0,407.6 L87.0,409.0 L92.0,405.0 L98.0,400.0 L104.0,395.0 L109.0,391.6 L114.0,390.0 L120.0,389.2 L126.0,389.4 L132.0,390.4 L140.0,392.4 L148.0,394.0 L156.0,395.6 L162.0,397.4 L166.0,395.6 L172.0,394.0 L176.0,394.4 L180.0,395.8 L185.0,396.4 L189.0,398.0 L194.0,402.4 L199.0,405.4 L206.0,407.6 L214.0,409.0 L220.0,410.6 L228.0,411.2 L236.0,411.2 L240.0,412.8 L244.0,413.6 L248.0,415.2 L254.0,418.0 L260.0,422.4 L266.0,426.6 L272.0,429.0 L277.0,429.6 L282.0,429.0 L290.0,427.2 L298.0,425.0 L306.0,422.0 L312.0,419.6 L317.0,417.2 L322.0,417.6 L327.0,416.4 L330.0,416.8 L334.0,415.2 L338.0,417.0 L343.0,420.0 L348.0,422.0 L354.0,423.2 L360.0,423.1 L373.0,423.6 L378.0,421.0 L384.0,417.6 L390.0,416.0 L396.0,414.4 L402.0,410.0 L409.0,406.0 L416.0,404.8 L422.0,404.4 L428.0,405.0 L436.0,407.0 L444.0,408.4 L450.0,407.6 L456.0,406.6 L464.0,406.4 L471.0,408.0 L477.0,408.0 L482.0,405.0 L488.0,403.2 L492.0,403.2 L496.4,402.0 L502.0,403.6 L508.0,405.6 L516.0,407.0 L523.0,408.0 L529.0,407.4 L535.0,409.4 L540.0,411.8 L546.0,414.0 L553.0,416.4 L557.0,417.0 L562.6,418.8 L568.0,415.0 L578.0,413.0 L586.0,409.4 L594.0,405.6 L602.0,403.0 L610.0,398.6 L618.0,395.6 L623.0,393.2 L626.0,392.8 L629.0,395.0 L633.0,397.4 L636.0,397.6 L639.0,402.0 L642.0,410.0 L644.0,415.0 L647.0,422.0 L651.0,429.0 L655.0,433.6 L660.0,436.4 L666.0,437.8 L671.0,438.0 L676.0,436.0 L684.0,432.0 L692.0,428.0 L698.0,423.6 L703.0,418.0 L706.0,414.0 L709.0,409.0 L713.0,405.6 L716.0,405.0 L720.0,403.3 L726.0,401.6 L732.0,399.6 L735.0,399.6 L740.0,402.0 L746.0,405.6 L749.8,407.6 L749.8,414.6 Z" fill="#2962ff"/>
<rect x="0" y="414.1" width="750" height="1" fill="#2962ff"/>
</svg>
<div id="txt">
<div class="yl" style="top:364.5px">4530.00</div>
<div class="yl" style="top:335.3px">4540.00</div>
<div class="yl" style="top:306.1px">4550.00</div>
<div class="yl" style="top:276.9px">4560.00</div>
<div class="yl" style="top:247.7px">4570.00</div>
<div class="yl" style="top:218.5px">4580.00</div>
<div class="yl" style="top:189.2px">4590.00</div>
<div class="yl" style="top:160.0px">4600.00</div>
<div class="yl" style="top:130.8px">4610.00</div>
<div class="yl" style="top:101.6px">4620.00</div>
<div class="yl" style="top:72.4px">4630.00</div>
<div class="yl" style="top:43.1px">4640.00</div>
<div class="yl" style="top:13.9px">4650.00</div>

<div class="t" style="left:866px;top:409.2px;">0.00</div>
<div class="tag" style="top:76.3px;height:13.4px;background:#1fb9d1;color:#0b2f38;"><span>4628.50</span></div>
<div class="tag" style="top:136.3px;background:#2962ff;"><span>4602.50</span></div>
<div class="tag" style="top:150px;background:#f23645;"><span>4600.00</span></div>
<div class="tag" style="top:163.7px;height:13.3px;background:#089981;"><span>4598.50</span></div>
<div class="tag" style="top:400.4px;width:28.2px;height:13.6px;background:#2962ff;border-radius:1.5px;"><span style="left:6.8px">3.18</span></div>
<div style="position:absolute;left:859px;top:0;width:41px;height:20.9px;background:#fff;"></div>
<div style="position:absolute;left:861.3px;top:-3px;width:42px;height:20.4px;background:#fff;border:0.9px solid #e6e8ee;border-radius:3.5px;box-sizing:border-box;"></div>
<div class="t" style="left:868.8px;top:2px;transform:scale(0.885,1.1);">USD</div>
<div class="dl" style="left:25.0px">18</div>
<div class="dl" style="left:102.0px">19</div>
<div class="dl" style="left:178.0px">20</div>
<div class="dl" style="left:254.4px">21</div>
<div class="dl" style="left:331.6px">24</div>
<div class="dl" style="left:408.0px">25</div>
<div class="dl" style="left:484.4px">26</div>
<div class="dl" style="left:561.4px">27</div>
<div class="dl" style="left:638.0px">28</div>
<div class="dl" style="left:714.4px">31</div>
<div class="dl b" style="left:791.4px">Aug</div>

<div class="t" style="left:2.6px;top:1.8px;letter-spacing:0.115px;word-spacing:0.6px;">S&amp;P 500 E-mini Futures, 1h, CME</div>
<div class="t" style="left:153.8px;top:1.8px;">O<span class="teal">4598.00</span></div>
<div class="t" style="left:200.4px;top:1.8px;">H<span class="teal">4599.00</span></div>
<div class="t" style="left:246.2px;top:1.8px;">L<span class="teal">4595.25</span></div>
<div class="t" style="left:290px;top:1.8px;">C<span class="teal">4598.50</span></div>
<div class="t teal" style="left:335.1px;top:1.8px;letter-spacing:-0.16px;">+0.50 (+0.01%)</div>
<div class="t" style="left:2.6px;top:15.7px;">EMA</div>
<div class="t" style="left:27.8px;top:15.7px;color:#3b68c9;">4602.56</div>
<div class="t" style="left:2.6px;top:29.2px;">MA</div>
<div class="t" style="left:23.3px;top:29.2px;color:#c8415c;">4599.95</div>
<div class="t" style="left:2.4px;top:390.4px;letter-spacing:-0.45px;">MACD</div>
<div class="t" style="left:35px;top:390.4px;color:#3b68d9;">3.18</div>
</div>
</body></html>
